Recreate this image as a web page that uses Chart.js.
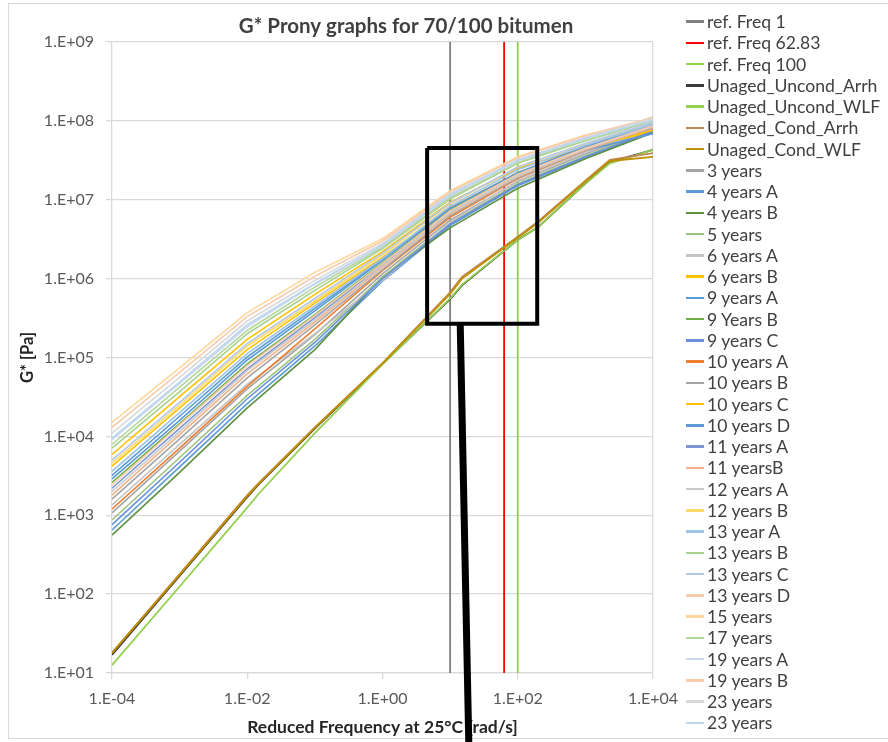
<!DOCTYPE html>
<html><head><meta charset="utf-8">
<script src="https://cdn.jsdelivr.net/npm/chart.js@4.4.1/dist/chart.umd.min.js"></script>
<style>
html,body{margin:0;padding:0;background:#fff;}
#wrap{position:relative;width:888px;height:742px;overflow:hidden;font-family:Lato,'Open Sans',sans-serif;}
#frame{position:absolute;left:8px;top:3px;width:900px;height:736px;border:1px solid #d9d9d9;box-sizing:border-box;}
#c{position:absolute;left:0;top:0;}
#legend{position:absolute;left:686px;top:11px;}
.item{height:21.25px;display:flex;align-items:center;font-size:17.6px;color:#404040;white-space:nowrap;}
.sw{width:18px;height:2.5px;margin-right:3px;flex:none;}
</style></head>
<body><div id="wrap"><div id="frame"></div><canvas id="c" width="888" height="742"></canvas><div id="legend"></div></div>
<script>
// ---------- text ----------
const titleText = "G* Prony graphs for 70/100 bitumen";
const xTitle = "Reduced Frequency at 25°C [rad/s]";
const yTitle = "G* [Pa]";
const xTickValues = [1e-4, 1e-2, 1, 1e2, 1e4];
const xTickLabels = ["1.E-04", "1.E-02", "1.E+00", "1.E+02", "1.E+04"];
const yTickValues = [1e1, 1e2, 1e3, 1e4, 1e5, 1e6, 1e7, 1e8, 1e9];
const yTickLabels = ["1.E+01", "1.E+02", "1.E+03", "1.E+04", "1.E+05", "1.E+06", "1.E+07", "1.E+08", "1.E+09"];

// ---------- reference frequencies ----------
const refLabels = ["ref. Freq 1", "ref. Freq 62.83", "ref. Freq 100"];
const refFreqs = [10, 62.83, 100];
const refSpan = [1e1, 1e9];

// ---------- unaged binder ----------
const freqUnaged = [1e-4, 1e-3, 1e-2, 1.5e-2, 1e-1, 1, 10, 15, 100, 200, 1e3, 2300, 1e4];
const unagedLabels = ["Unaged_Uncond_Arrh", "Unaged_Uncond_WLF", "Unaged_Cond_Arrh", "Unaged_Cond_WLF"];
const unagedUncondArrh = [17, 170, 1.7e3, 2.5e3, 1.25e4, 8.3e4, 5.5e5, 8.2e5, 3.1e6, 4.5e6, 1.6e7, 3.0e7, 4.3e7];
const unagedUncondWLF  = [12.6, 125, 1.25e3, 1.9e3, 1.1e4, 8.2e4, 5.6e5, 8.4e5, 3.1e6, 4.5e6, 1.6e7, 2.9e7, 4.3e7];
const unagedCondArrh   = [18, 180, 1.8e3, 2.6e3, 1.3e4, 8.5e4, 6.7e5, 1.05e6, 3.4e6, 5.3e6, 1.75e7, 3.2e7, 3.9e7];
const unagedCondWLF    = [18, 175, 1.75e3, 2.55e3, 1.28e4, 8.4e4, 6.4e5, 1.0e6, 3.3e6, 5.1e6, 1.7e7, 3.1e7, 3.5e7];

// ---------- aged samples ----------
const freqAged = [1e-4, 1e-3, 1e-2, 1e-1, 1, 10, 100, 1e3, 1e4];
const agedLabels = ["3 years", "4 years A", "4 years B", "5 years", "6 years A", "6 years B",
  "9 years A", "9 Years B", "9 years C", "10 years A", "10 years B", "10 years C", "10 years D",
  "11 years A", "11 yearsB", "12 years A", "12 years B", "13 year A", "13 years B", "13 years C",
  "13 years D", "15 years", "17 years", "19 years A", "19 years B", "23 years", "23 years"];
const y3   = [1.07e3, 6.5e3, 4.0e4, 1.95e5, 1.15e6, 5.5e6, 1.7e7, 3.8e7, 7.8e7];
const y4A  = [650, 4.1e3, 2.6e4, 1.4e5, 9.3e5, 4.7e6, 1.5e7, 3.4e7, 7.2e7];
const y4B  = [560, 3.5e3, 2.3e4, 1.26e5, 1.05e6, 4.4e6, 1.4e7, 3.3e7, 7.1e7];
const y5   = [870, 5.4e3, 3.3e4, 1.7e5, 1.05e6, 5.1e6, 1.6e7, 3.6e7, 7.6e7];
const y6A  = [1.35e3, 7.9e3, 4.6e4, 2.0e5, 9.5e5, 5.2e6, 1.74e7, 4.0e7, 7.9e7];
const y6B  = [5.9e3, 3.2e4, 1.7e5, 6.3e5, 2.2e6, 9.3e6, 2.5e7, 4.6e7, 7.4e7];
const y9A  = [3.2e3, 1.8e4, 1.02e5, 4.2e5, 1.74e6, 7.6e6, 2.1e7, 4.2e7, 6.9e7];
const y9B  = [2.6e3, 1.45e4, 8.3e4, 3.5e5, 1.6e6, 7.4e6, 2.2e7, 4.6e7, 8.7e7];
const y9C  = [760, 4.7e3, 3.0e4, 1.55e5, 1.0e6, 4.9e6, 1.55e7, 3.5e7, 7.4e7];
const y10A = [1.2e3, 7.1e3, 4.3e4, 2.3e5, 1.26e6, 6.0e6, 1.86e7, 4.2e7, 8.5e7];
const y10B = [1.6e3, 9.3e3, 5.5e4, 2.6e5, 1.3e6, 6.3e6, 1.9e7, 4.2e7, 8.1e7];
const y10C = [4.2e3, 2.3e4, 1.26e5, 4.9e5, 1.86e6, 7.9e6, 2.2e7, 4.5e7, 7.6e7];
const y10D = [2.9e3, 1.6e4, 9.3e4, 3.9e5, 1.7e6, 7.8e6, 2.2e7, 4.7e7, 8.9e7];
const y11A = [2.2e3, 1.26e4, 7.2e4, 3.2e5, 1.5e6, 7.1e6, 2.1e7, 4.4e7, 8.5e7];
const y11B = [1.8e3, 1.05e4, 6.2e4, 2.8e5, 1.4e6, 6.6e6, 1.95e7, 4.3e7, 8.3e7];
const y12A = [2.0e3, 1.15e4, 6.8e4, 3.0e5, 1.45e6, 6.8e6, 2.0e7, 4.4e7, 8.5e7];
const y12B = [4.6e3, 2.5e4, 1.4e5, 5.2e5, 2.0e6, 8.9e6, 2.6e7, 5.1e7, 9.5e7];
const y13A = [3.6e3, 2.0e4, 1.12e5, 4.5e5, 1.8e6, 8.3e6, 2.4e7, 4.9e7, 9.1e7];
const y13B = [7.1e3, 3.7e4, 2.0e5, 7.1e5, 2.4e6, 1.02e7, 2.9e7, 5.6e7, 1.0e8];
const y13C = [5.0e3, 2.7e4, 1.5e5, 5.6e5, 2.1e6, 9.1e6, 2.6e7, 5.2e7, 9.5e7];
const y13D = [2.4e3, 1.4e4, 7.9e4, 3.4e5, 1.55e6, 7.2e6, 2.1e7, 4.5e7, 8.7e7];
const y15  = [1.5e4, 7.4e4, 3.7e5, 1.2e6, 3.2e6, 1.3e7, 3.5e7, 6.6e7, 1.05e8];
const y17  = [7.9e3, 4.2e4, 2.2e5, 7.8e5, 2.5e6, 1.07e7, 2.95e7, 5.9e7, 1.12e8];
const y19A = [9.1e3, 4.7e4, 2.45e5, 8.5e5, 2.6e6, 1.12e7, 3.1e7, 6.0e7, 1.05e8];
const y19B = [1.3e4, 6.5e4, 3.3e5, 1.07e6, 3.0e6, 1.26e7, 3.4e7, 6.5e7, 1.1e8];
const y23a = [1.1e4, 5.6e4, 2.9e5, 9.5e5, 2.8e6, 1.2e7, 3.2e7, 6.2e7, 1.07e8];
const y23b = [9.5e3, 4.9e4, 2.6e5, 8.7e5, 2.7e6, 1.15e7, 3.2e7, 6.0e7, 1.02e8];
const agedValues = [y3, y4A, y4B, y5, y6A, y6B, y9A, y9B, y9C, y10A, y10B, y10C, y10D,
  y11A, y11B, y12A, y12B, y13A, y13B, y13C, y13D, y15, y17, y19A, y19B, y23a, y23b];

// ---------- annotation (box and pointer drawn on the chart) ----------
const boxFreq = [4.57, 194, 194, 4.57, 4.57];
const boxG = [4.54e7, 4.54e7, 2.67e5, 2.67e5, 4.54e7];
const pointerFreq = [14.1, 19.0];
const pointerG = [2.67e5, 1];

// ---------- styles ----------
const refColors = ["#7F7F7F", "#FF0000", "#92D050"];
const unagedColors = ["#3A3A3A", "#92D050", "#C08552", "#BF9000"];
const agedColors = ["#A5A5A5", "#5B9BD5", "#5E9140", "#9CC47F", "#C4C4C4", "#FFC000",
  "#5B9BD5", "#70AD47", "#6A8FD8", "#ED7D31", "#A5A5A5", "#FFC000", "#5B9BD5",
  "#7B96D4", "#F4B183", "#C9C9C9", "#FFD966", "#9DC3E6", "#A9D18E", "#B4C7E7",
  "#F8CBAD", "#FFD699", "#B4D59A", "#C9D6EE", "#F8CBAD", "#D9D9D9", "#BDD7EE"];

const pts = (xs, ys) => xs.map((x, i) => ({x: x, y: ys[i]}));
const datasets = [];
refFreqs.forEach((f, i) => datasets.push({label: refLabels[i], data: pts([f, f], refSpan), borderColor: refColors[i], borderWidth: 1.8}));
[unagedUncondArrh, unagedUncondWLF, unagedCondArrh, unagedCondWLF].forEach((v, i) =>
  datasets.push({label: unagedLabels[i], data: pts(freqUnaged, v), borderColor: unagedColors[i], borderWidth: 1.8}));
agedValues.forEach((v, i) => datasets.push({label: agedLabels[i], data: pts(freqAged, v), borderColor: agedColors[i], borderWidth: 1.6}));
datasets.forEach((d, i) => { d.order = -i; d.showLine = true; d.pointRadius = 0; d.pointHoverRadius = 0; d.tension = 0; d.fill = false; });
const legendCount = datasets.length;
datasets.push({label: "box", data: pts(boxFreq, boxG), borderColor: "#000", borderWidth: 4, showLine: true, pointRadius: 0, order: -1000, borderJoinStyle: "miter", clip: false});
datasets.push({label: "pointer", data: pts(pointerFreq, pointerG), borderColor: "#000", borderWidth: 7, showLine: true, pointRadius: 0, order: -1001, clip: false});

const titlePlugin = {
  id: "ctitle",
  afterDraw(chart) {
    const c = chart.ctx; c.save();
    c.font = "bold 20.5px Lato"; c.fillStyle = "#404040"; c.textAlign = "center"; c.textBaseline = "middle";
    c.fillText(titleText, 406, 26); c.restore();
  }
};

const PAD_L = 14, PAD_B = 4;
new Chart(document.getElementById("c"), {
  type: "scatter",
  data: {datasets: datasets},
  plugins: [titlePlugin],
  options: {
    responsive: false, animation: false, events: [],
    layout: {padding: {left: PAD_L, right: 235, top: 42, bottom: PAD_B}},
    plugins: {legend: {display: false}, tooltip: {enabled: false}, title: {display: false}},
    scales: {
      x: {
        type: "logarithmic", min: 1e-4, max: 1e4,
        afterBuildTicks: s => { s.ticks = xTickValues.map(v => ({value: v})); },
        afterFit: s => { s.height = 742 - PAD_B - 673; },
        ticks: {autoSkip: false, maxRotation: 0, padding: 10, color: "#595959", font: {family: "Lato", size: 16},
          callback: (v, i) => xTickLabels[i]},
        grid: {color: c => c.index === xTickValues.length - 1 ? "#D9D9D9" : "rgba(0,0,0,0)", tickColor: "#D9D9D9", tickLength: 6, lineWidth: 1.3},
        border: {display: true, color: "#D9D9D9", width: 1.3},
        title: {display: true, text: xTitle, color: "#262626", font: {family: "Lato", size: 17.5, weight: "bold"}, padding: {top: 0, bottom: 0}}
      },
      y: {
        type: "logarithmic", min: 1e1, max: 1e9,
        afterBuildTicks: s => { s.ticks = yTickValues.map(v => ({value: v})); },
        afterFit: s => { s.width = 112 - PAD_L; },
        ticks: {autoSkip: false, padding: 12, color: "#595959", font: {family: "Lato", size: 16},
          callback: (v, i) => yTickLabels[i]},
        grid: {color: "#D9D9D9", tickColor: "#D9D9D9", tickLength: 6, lineWidth: 1.3},
        border: {display: true, color: "#D9D9D9", width: 1.3},
        title: {display: true, text: yTitle, color: "#262626", font: {family: "Lato", size: 16.5, weight: "bold"}, padding: {top: 4, bottom: 0}}
      }
    }
  }
});

// HTML legend built from the datasets
const lg = document.getElementById("legend");
datasets.slice(0, legendCount).forEach(d => {
  const it = document.createElement("div"); it.className = "item";
  const sw = document.createElement("span"); sw.className = "sw"; sw.style.background = d.borderColor;
  const tx = document.createElement("span"); tx.textContent = d.label;
  it.appendChild(sw); it.appendChild(tx); lg.appendChild(it);
});
</script>
</body></html>
